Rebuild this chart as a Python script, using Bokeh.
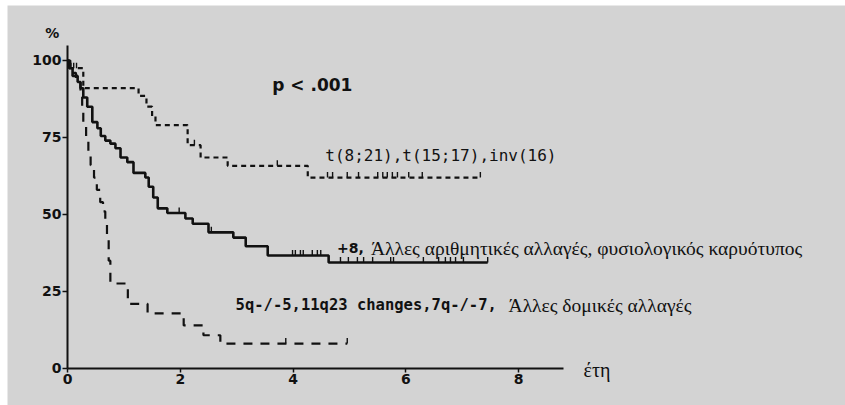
import numpy as np
from bokeh.plotting import figure
from bokeh.models import Range1d, Label, FixedTicker, ColumnDataSource
from bokeh.embed import file_html
from bokeh.resources import INLINE

# ---- data (years, % surviving) ----
fav_t = [0, 0.03, 0.28, 1.26, 1.40, 1.50, 1.56, 2.13, 2.36, 2.84, 4.26, 7.32]
fav_s = [100, 97.5, 91, 88.5, 85, 82, 79, 72.5, 68.5, 65.8, 62, 62]
fav_cens = [0.06, 0.11, 0.16, 2.25, 3.72, 4.61, 4.70, 4.96, 5.16, 5.50, 5.59, 5.67,
            5.76, 5.85, 6.05, 6.29, 7.32]

mid_t = [0, 0.03, 0.09, 0.18, 0.23, 0.28, 0.35, 0.44, 0.53, 0.59, 0.67, 0.76, 0.85,
         0.94, 1.06, 1.17, 1.38, 1.44, 1.52, 1.60, 1.77, 2.09, 2.22, 2.50, 2.94,
         3.16, 3.55, 4.63, 7.45]
mid_s = [100, 97.5, 95, 93, 91, 88, 85, 80, 78, 75.5, 74, 73, 71.5, 68.5, 67, 63.5,
         62, 59, 55.5, 52, 50.5, 48.7, 47, 44.2, 42.5, 39.7, 36.7, 34.4, 34.4]
mid_cens = [1.98, 2.55, 3.56, 3.99, 4.04, 4.13, 4.18, 4.34, 4.43, 4.49, 4.84, 4.98,
            5.14, 5.25, 5.41, 5.73, 5.78, 6.31, 6.58, 6.70, 6.79, 6.88, 7.02, 7.45]

adv_t = [0, 0.05, 0.15, 0.23, 0.26, 0.28, 0.33, 0.37, 0.41, 0.47, 0.52, 0.58, 0.63,
         0.67, 0.70, 0.73, 0.76, 1.07, 1.42, 2.06, 2.41, 2.71, 4.96]
adv_s = [100, 96, 93, 90, 84, 79, 74, 70, 66, 62, 58, 54, 51, 47, 42, 35, 27.6, 21,
         17.9, 14, 10.8, 8.1, 8.1]
adv_cens = [3.87, 4.96]

x_ticks = [0, 2, 4, 6, 8]
y_ticks = [0, 25, 50, 75, 100]

fav_label = "t(8;21),t(15;17),inv(16)"
mid_label_a = "+8,"
mid_label_b = "Άλλες αριθμητικές αλλαγές, φυσιολογικός καρυότυπος"
adv_label_a = "5q-/-5,11q23 changes,7q-/-7,"
adv_label_b = "Άλλες δομικές αλλαγές"
p_label = "p < .001"
x_title = "έτη"
y_title = "%"

BG = "#d3d3d3"
INK = "#111111"

p = figure(width=845, height=405, output_backend="svg", toolbar_location=None,
           x_range=Range1d(-1.0638, 13.794), y_range=Range1d(-12.013, 117.857),
           min_border_left=7, min_border_right=0, min_border_top=5,
           min_border_bottom=0, background_fill_color=BG, border_fill_color="white",
           outline_line_color=None)
p.title.visible = False
p.grid.visible = False


def censor_levels(t, s, c):
    t = np.asarray(t); s = np.asarray(s)
    idx = np.searchsorted(t, np.asarray(c), side="right") - 1
    return s[idx]


for t, s, c, dash, w in [(fav_t, fav_s, fav_cens, "5 4", 2.2),
                         (mid_t, mid_s, mid_cens, "solid", 2.6),
                         (adv_t, adv_s, adv_cens, "9 8", 2.2)]:
    p.step(t, s, mode="after", line_color=INK, line_width=w, line_dash=dash)
    lv = censor_levels(t, s, c)
    src = ColumnDataSource(dict(x=c, y0=lv, y1=lv + 1.8))
    p.segment(x0="x", y0="y0", x1="x", y1="y1", source=src, line_color=INK,
              line_width=1.4)

for ax, tk, bd in [(p.xaxis, x_ticks, (0, 8.8)), (p.yaxis, y_ticks, (0, 105))]:
    ax.fixed_location = 0
    ax.ticker = FixedTicker(ticks=tk)
    ax.bounds = bd
    ax.axis_line_color = INK
    ax.axis_line_width = 2
    ax.major_tick_line_color = INK
    ax.major_tick_line_width = 1.5
    ax.major_tick_in = 0
    ax.minor_tick_line_color = None
    ax.major_label_text_font = "DejaVu Sans"
    ax.major_label_text_font_style = "bold"
    ax.major_label_text_font_size = "14px"
    ax.major_label_text_color = INK
p.xaxis.major_tick_out = 4
p.xaxis.major_label_standoff = 2
p.yaxis.major_tick_out = 5
p.yaxis.major_label_standoff = 1

labels = [
    dict(x=-0.27, y=108.8, text=y_title, text_font="DejaVu Sans", text_font_style="bold",
         text_font_size="14px", text_align="center"),
    dict(x=3.63, y=91.9, text=p_label, text_font="DejaVu Sans", text_font_style="bold",
         text_font_size="17px", text_align="left"),
    dict(x=4.57, y=69.2, text=fav_label, text_font="DejaVu Sans Mono",
         text_font_style="normal", text_font_size="16px", text_align="left"),
    dict(x=4.78, y=39.0, text=mid_label_a, text_font="DejaVu Sans", text_font_style="bold",
         text_font_size="14px", text_align="left"),
    dict(x=5.38, y=39.0, text=mid_label_b, text_font="Liberation Serif",
         text_font_style="normal", text_font_size="19.5px", text_align="left"),
    dict(x=2.98, y=20.5, text=adv_label_a, text_font="DejaVu Sans Mono",
         text_font_style="bold", text_font_size="15.5px", text_align="left"),
    dict(x=7.82, y=20.5, text=adv_label_b, text_font="Liberation Serif",
         text_font_style="normal", text_font_size="19.5px", text_align="left"),
    dict(x=9.15, y=-0.6, text=x_title, text_font="Liberation Serif",
         text_font_style="normal", text_font_size="20px", text_align="left"),
]
for kw in labels:
    p.add_layout(Label(text_baseline="middle", text_color=INK, **kw))

open("out.html", "w").write(file_html(p, INLINE))
